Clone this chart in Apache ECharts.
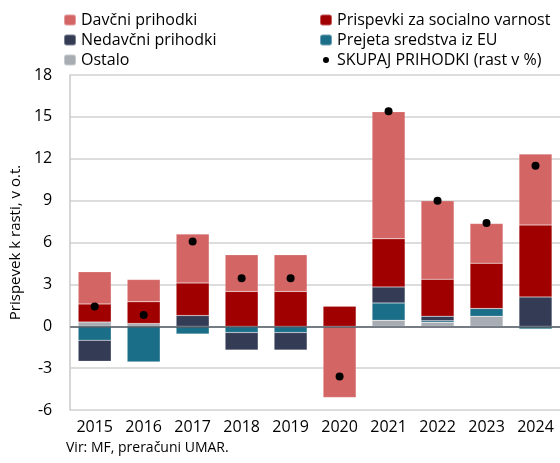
<!DOCTYPE html>
<html>
<head>
<meta charset="utf-8">
<script src="https://cdn.jsdelivr.net/npm/echarts@6/dist/echarts.min.js"></script>
<style>
  html, body { margin: 0; padding: 0; background: #fff; }
  #chart { width: 560px; height: 463px; }
</style>
</head>
<body>
<div id="chart"></div>
<script>
// podatki
var years = ['2015', '2016', '2017', '2018', '2019', '2020', '2021', '2022', '2023', '2024'];
var ostalo = [0.3, 0.2, 0, 0, 0, 0, 0.43, 0.29, 0.72, 0];
var sredstvaEU = [-1.0, -2.56, -0.55, -0.45, -0.45, 0, 1.24, 0.1, 0.55, -0.19];
var nedavcni = [-1.5, 0, 0.77, -1.25, -1.25, 0, 1.15, 0.33, 0, 2.1];
var prispevki = [1.3, 1.55, 2.33, 2.49, 2.49, 1.43, 3.44, 2.65, 3.25, 5.15];
var davcni = [2.3, 1.6, 3.5, 2.63, 2.63, -5.1, 9.11, 5.62, 2.84, 5.09];
var skupaj = [1.41, 0.81, 6.07, 3.44, 3.44, -3.6, 15.4, 9.0, 7.39, 11.5];

var font = 'Open Sans';
var myChart = echarts.init(document.getElementById('chart'));

function bar(name, data, color) {
    return {
        name: name,
        type: 'bar',
        stack: 'rast',
        data: data,
        barWidth: 33,
        itemStyle: { color: color, borderColor: 'rgba(255,255,255,0.35)', borderWidth: 0.5 }
    };
}

var series = [
    bar('Ostalo', ostalo, '#a7adb3'),
    bar('Prejeta sredstva iz EU', sredstvaEU, '#1a6e87'),
    bar('Nedavčni prihodki', nedavcni, '#343b55'),
    bar('Prispevki za socialno varnost', prispevki, '#a00000'),
    bar('Davčni prihodki', davcni, '#d46565'),
    {
        name: 'SKUPAJ PRIHODKI (rast v %)',
        type: 'scatter',
        data: skupaj,
        symbolSize: 8,
        itemStyle: { color: '#000', opacity: 1 },
        z: 5
    }
];
// ničelna črta
series[0].markLine = {
    silent: true,
    symbol: 'none',
    label: { show: false },
    lineStyle: { color: '#555c66', width: 1.5, type: 'solid' },
    data: [{ yAxis: 0 }]
};

var legendText = { fontFamily: font, fontSize: 16, color: '#000', lineHeight: 20 };

var option = {
    animation: false,
    backgroundColor: '#fff',
    grid: { left: 66, top: 75, width: 498, height: 335 },
    legend: [{
        orient: 'vertical',
        left: 63, top: 10, padding: 0,
        itemWidth: 12, itemHeight: 11, itemGap: 0,
        textStyle: legendText,
        data: ['Davčni prihodki', 'Nedavčni prihodki', 'Ostalo']
    }, {
        orient: 'vertical',
        left: 318, top: 10, padding: 0,
        itemWidth: 12, itemHeight: 11, itemGap: 0,
        textStyle: legendText,
        data: ['Prispevki za socialno varnost', 'Prejeta sredstva iz EU',
               { name: 'SKUPAJ PRIHODKI (rast v %)', icon: 'circle',
                 itemStyle: { color: '#000', borderColor: '#fff', borderWidth: 5 } }]
    }],
    xAxis: {
        type: 'category',
        data: years,
        axisLine: { show: false, onZero: false },
        axisTick: { show: false },
        axisLabel: { fontFamily: font, fontSize: 16, color: '#000', margin: 9 }
    },
    yAxis: {
        type: 'value',
        min: -6, max: 18, interval: 3,
        name: 'Prispevek k rasti, v o.t.',
        nameLocation: 'middle',
        nameGap: 41,
        nameTextStyle: { fontFamily: font, fontSize: 15, color: '#000' },
        axisLine: { show: true, lineStyle: { color: '#c8c8c8', width: 1.5 } },
        axisTick: { show: false },
        axisLabel: { fontFamily: font, fontSize: 16, color: '#000', margin: 18 },
        splitLine: { lineStyle: { color: '#d0d0d0', width: 1.5 } }
    },
    graphic: [{
        type: 'text',
        left: 66, top: 441,
        style: { text: 'Vir: MF, preračuni UMAR.', fontFamily: font, fontSize: 14, fill: '#000' }
    }],
    series: series
};

myChart.setOption(option);
</script>
</body>
</html>
